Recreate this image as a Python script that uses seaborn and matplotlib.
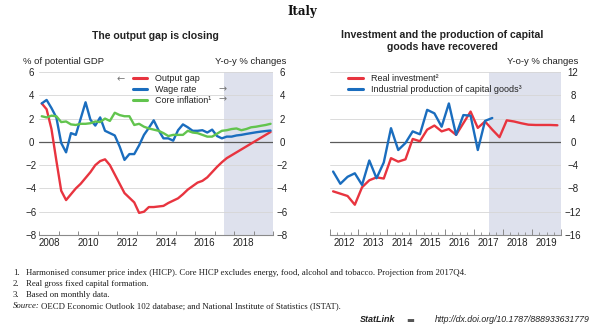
import numpy as np
import pandas as pd
import matplotlib
matplotlib.use("Agg")
import matplotlib.pyplot as plt
import matplotlib.ticker as mticker
from matplotlib.lines import Line2D
import seaborn as sns

# ---------------------------------------------------------------------------
# Data (quarterly)
# ---------------------------------------------------------------------------
# Left panel: 2008Q1 - 2019Q4
output_gap = [3.3, 2.8, 1.1, -1.6, -4.2, -5.0, -4.5, -4.0,
              -3.6, -3.1, -2.6, -2.0, -1.65, -1.5, -2.0, -2.8,
              -3.6, -4.4, -4.8, -5.2, -6.1, -6.0, -5.6, -5.6,
              -5.55, -5.5, -5.25, -5.05, -4.85, -4.5, -4.1, -3.8,
              -3.5, -3.35, -3.05, -2.6, -2.15, -1.75, -1.4, -1.15,
              -0.9, -0.65, -0.4, -0.15, 0.1, 0.35, 0.6, 0.85]
wage_rate = [3.3, 3.6, 2.9, 2.1, -0.1, -0.9, 0.75, 0.6,
             2.0, 3.4, 1.9, 1.4, 2.1, 0.95, 0.75, 0.55,
             -0.4, -1.55, -1.05, -1.05, -0.3, 0.6, 1.2, 1.85,
             1.0, 0.3, 0.3, 0.1, 1.0, 1.5, 1.25, 0.95,
             0.95, 1.0, 0.8, 1.05, 0.5, 0.3, 0.45, 0.45,
             0.55, 0.6, 0.68, 0.75, 0.82, 0.88, 0.93, 0.97]
core_inflation = [2.2, 2.1, 2.25, 2.2, 1.7, 1.75, 1.5, 1.45,
                  1.55, 1.55, 1.6, 1.75, 1.7, 2.0, 1.8, 2.5,
                  2.3, 2.2, 2.2, 1.45, 1.55, 1.3, 1.15, 1.05,
                  0.95, 0.75, 0.5, 0.6, 0.6, 0.6, 0.95, 0.8,
                  0.75, 0.6, 0.45, 0.45, 0.7, 0.95, 1.0, 1.1,
                  1.15, 1.0, 1.1, 1.25, 1.3, 1.38, 1.45, 1.55]

# Right panel: 2012Q1 - 2019Q4 (capital goods up to 2017Q3)
real_investment = [-8.5, -8.9, -9.3, -10.8, -7.8, -6.6, -6.1, -6.3,
                   -2.8, -3.4, -3.0, 0.5, 0.1, 2.1, 2.8, 1.8,
                   2.2, 1.2, 3.2, 5.2, 2.4, 3.5, 2.1, 0.8,
                   3.7, 3.5, 3.2, 2.95, 2.9, 2.9, 2.9, 2.85]
capital_goods = [-5.1, -7.2, -6.0, -5.4, -7.4, -3.2, -6.25, -3.55,
                 2.35, -1.4, -0.2, 1.8, 1.3, 5.5, 4.9, 2.6,
                 6.6, 1.2, 4.6, 4.5, -1.4, 3.6, 4.1]

left_series = ["Output gap", "Wage rate", "Core inflation\u00b9"]
right_series = ["Real investment\u00b2", "Industrial production of capital goods\u00b3"]
left_years = [2008, 2010, 2012, 2014, 2016, 2018]
right_years = [2012, 2013, 2014, 2015, 2016, 2017, 2018, 2019]
projection_start = 2017.5

RED = "#E8343F"
BLUE = "#1A6DBE"
GREEN = "#62C44E"
SHADE = "#DEE1ED"
GRID = "#D6D6D6"


def quarter_positions(start, n):
    p = pd.period_range(start, periods=n, freq="Q")
    return np.asarray(p.year + (p.quarter - 1) / 4 + 0.125, dtype=float)


def long_frame(start, series):
    frames = []
    for name, vals in series.items():
        frames.append(pd.DataFrame({"t": quarter_positions(start, len(vals)),
                                    "value": vals, "series": name}))
    return pd.concat(frames, ignore_index=True)


left_df = long_frame("2008Q1", dict(zip(left_series, [output_gap, wage_rate, core_inflation])))
right_df = long_frame("2012Q1", dict(zip(right_series, [real_investment, capital_goods])))

sns.set_theme(style="white")
plt.rcParams["font.family"] = ["Liberation Sans", "DejaVu Sans"]

fig = plt.figure(figsize=(6.04, 3.30), dpi=100)
W, H = 604, 330


def axes_box(x0, x1, y0, y1):
    return [x0 / W, 1 - y1 / H, (x1 - x0) / W, (y1 - y0) / H]


axL = fig.add_axes(axes_box(39.3, 273, 72, 235))
axR = fig.add_axes(axes_box(329.5, 561, 72, 235))


def style_axes(ax, ylim, ystep, xlim):
    ax.set_xlim(*xlim)
    ax.set_ylim(*ylim)
    ax.axvspan(projection_start, xlim[1], color=SHADE, lw=0, zorder=0)
    ax.set_yticks(np.arange(ylim[0], ylim[1] + 0.01, ystep))
    for v in np.arange(ylim[0] + ystep, ylim[1] + 0.01, ystep):
        if v != 0:
            ax.axhline(v, color=GRID, lw=0.6, zorder=1)
    ax.axhline(0, color="#5a5a5a", lw=0.9, zorder=2)
    for s in ["left", "right", "top"]:
        ax.spines[s].set_visible(False)
    ax.spines["bottom"].set_color("#8a8a8a")
    ax.spines["bottom"].set_linewidth(0.8)
    ax.grid(False)
    ax.set_xlabel("")
    ax.set_ylabel("")


# ----- Left panel -----
sns.lineplot(data=left_df, x="t", y="value", hue="series",
             palette=[RED, BLUE, GREEN], hue_order=left_series,
             estimator=None, sort=False, lw=1.7, legend=False, ax=axL, zorder=5)
style_axes(axL, (-8, 6), 2, (2008, 2020))
axL.xaxis.set_major_locator(mticker.MultipleLocator(1))
axL.xaxis.set_major_formatter(mticker.NullFormatter())
axL.xaxis.set_minor_locator(mticker.FixedLocator([y + 0.5 for y in left_years]))
axL.xaxis.set_minor_formatter(mticker.FixedFormatter([str(y) for y in left_years]))
axL.tick_params(axis="x", which="major", direction="in", length=3, width=0.7,
                color="#8a8a8a", bottom=True)
axL.tick_params(axis="x", which="minor", length=0, labelsize=7, pad=2.5,
                labelcolor="#222222", bottom=True)
axL.tick_params(axis="y", length=0, labelsize=7, labelleft=True, labelright=True,
                labelcolor="#222222", pad=5.6)
for t in axL.yaxis.get_major_ticks():
    t.label1.set_horizontalalignment("center")
    t.label2.set_horizontalalignment("center")

# ----- Right panel -----
sns.lineplot(data=right_df, x="t", y="value", hue="series",
             palette=[RED, BLUE], hue_order=right_series,
             estimator=None, sort=False, lw=1.7, legend=False, ax=axR, zorder=5)
style_axes(axR, (-16, 12), 4, (2012, 2020))
axR.xaxis.set_major_locator(mticker.MultipleLocator(1))
axR.xaxis.set_major_formatter(mticker.NullFormatter())
axR.xaxis.set_minor_locator(mticker.MultipleLocator(0.25))
axR.xaxis.set_minor_formatter(mticker.FuncFormatter(
    lambda x, pos: str(int(np.floor(x))) if abs(x % 1 - 0.5) < 1e-6 else ""))
axR.tick_params(axis="x", which="major", direction="in", length=4, width=0.7,
                color="#8a8a8a", bottom=True)
axR.tick_params(axis="x", which="minor", direction="in", length=2, width=0.6,
                color="#8a8a8a", labelsize=7, pad=2.5, labelcolor="#222222", bottom=True)
axR.yaxis.tick_right()
axR.tick_params(axis="y", length=0, labelsize=7, labelleft=False, labelright=True,
                labelcolor="#222222", pad=8.6)
for t in axR.yaxis.get_major_ticks():
    t.label2.set_horizontalalignment("center")

# Right-hand labels of the left panel sit a little further out
fig.canvas.draw()
for t in axL.yaxis.get_major_ticks():
    t.label2.set_x(1.0)
    t.label2.set_transform(axL.get_yaxis_transform() +
                           matplotlib.transforms.ScaledTranslation(6.5 / 72, 0, fig.dpi_scale_trans))

# ----- Legends -----
left_handles = [Line2D([], [], color=c, lw=2.2) for c in (RED, BLUE, GREEN)]
legL = axL.legend(left_handles, left_series, loc="upper left",
                  bbox_to_anchor=(133 / W, 1 - 74.3 / H), bbox_transform=fig.transFigure,
                  frameon=False, fontsize=6.5, handlelength=1.55, handletextpad=0.85,
                  labelspacing=0.22, borderpad=0, borderaxespad=0)
for txt in legL.get_texts():
    txt.set_color("#222222")

right_handles = [Line2D([], [], color=c, lw=2.2) for c in (RED, BLUE)]
legR = axR.legend(right_handles, right_series, loc="upper left",
                  bbox_to_anchor=(348 / W, 1 - 74.3 / H), bbox_transform=fig.transFigure,
                  frameon=False, fontsize=6.5, handlelength=1.65, handletextpad=0.85,
                  labelspacing=0.22, borderpad=0, borderaxespad=0)
for txt in legR.get_texts():
    txt.set_color("#222222")

# Axis-side arrows next to the legend entries
arrow_kw = dict(fontsize=7, color="#777777", va="center", ha="center",
                family=["DejaVu Sans"])
fig.text(121 / W, 1 - 79.5 / H, "\u2190", **arrow_kw)
fig.text(223 / W, 1 - 89.5 / H, "\u2192", **arrow_kw)
fig.text(223 / W, 1 - 99.5 / H, "\u2192", **arrow_kw)

# ----- Titles and unit labels -----
fig.text(0.5, 1 - 12 / H, "Italy", family=["DejaVu Serif"], fontweight="bold",
         fontsize=8.5, ha="center", va="center", color="#111111")
fig.text(155 / W, 1 - 36 / H, "The output gap is closing", fontweight="bold",
         fontsize=7.6, ha="center", va="center", color="#222222")
fig.text(442.5 / W, 1 - 41 / H, "Investment and the production of capital\ngoods have recovered",
         fontweight="bold", fontsize=7.6, ha="center", va="center", color="#222222",
         linespacing=1.15)
unit_kw = dict(fontsize=6.8, va="center", color="#222222")
fig.text(23 / W, 1 - 61.5 / H, "% of potential GDP", ha="left", **unit_kw)
fig.text(286 / W, 1 - 61.5 / H, "Y-o-y % changes", ha="right", **unit_kw)
fig.text(578 / W, 1 - 61.5 / H, "Y-o-y % changes", ha="right", **unit_kw)

# ----- Footnotes -----
note_kw = dict(fontsize=6.35, va="center", color="#1a1a1a", family=["Liberation Serif"])
notes = [
    ("1.", "Harmonised consumer price index (HICP). Core HICP excludes energy, food, alcohol and tobacco. Projection from 2017Q4."),
    ("2.", "Real gross fixed capital formation."),
    ("3.", "Based on monthly data."),
]
for i, (num, body) in enumerate(notes):
    y = 1 - (273 + i * 11.2) / H
    fig.text(12.7 / W, y, num, ha="left", **note_kw)
    fig.text(26 / W, y, body, ha="left", **note_kw)
ys = 1 - 306.5 / H
fig.text(12.7 / W, ys, "Source:", ha="left", style="italic", **note_kw)
fig.text(40.7 / W, ys, "OECD Economic Outlook 102 database; and National Institute of Statistics (ISTAT).",
         ha="left", **note_kw)

yl = 1 - 320 / H
fig.text(395 / W, yl, "StatLink", ha="right", va="center", fontsize=6.5,
         fontweight="bold", style="italic", color="#222222")
fig.text(410 / W, yl, "\u25ac", ha="center", va="center", fontsize=6,
         color="#555555", family=["DejaVu Sans"])
fig.text(590 / W, yl, "http://dx.doi.org/10.1787/888933631779", ha="right", va="center",
         fontsize=6.3, style="italic", color="#222222")

fig.savefig("out.png", dpi=100)
